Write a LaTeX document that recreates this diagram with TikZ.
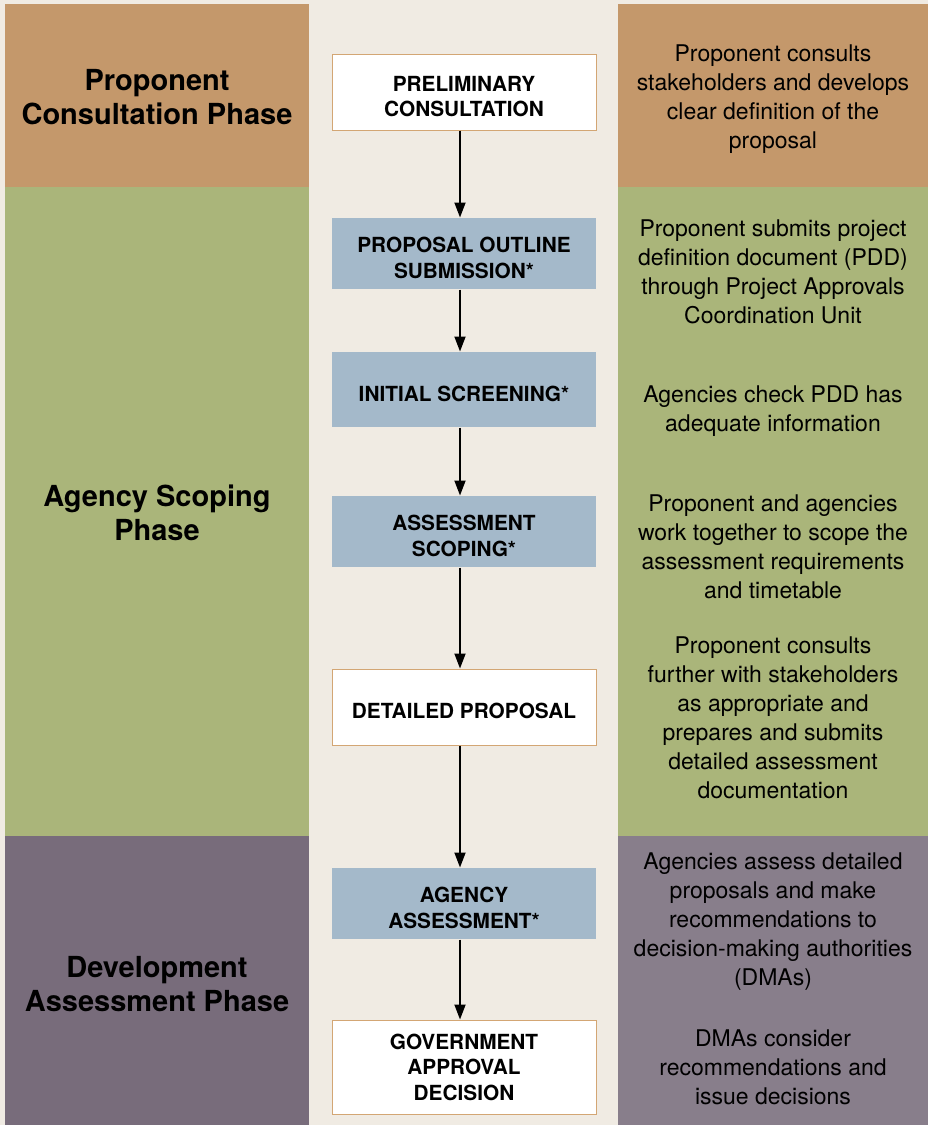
\documentclass[tikz,border=0pt]{standalone}
\usepackage{fontspec}
\setmainfont{TeX Gyre Heros}
\usetikzlibrary{arrows.meta}

\definecolor{bgbeige}{HTML}{F0EBE3}
\definecolor{phbrown}{HTML}{C4986B}
\definecolor{phgreen}{HTML}{AAB57A}
\definecolor{phpurple}{HTML}{786C7B}
\definecolor{phpurplelt}{HTML}{887E8B}
\definecolor{boxblue}{HTML}{A4B9CA}
\definecolor{boxline}{HTML}{D3A674}

% pushes the box text a little below the box centre
\newcommand{\bstrut}{\rule{0pt}{24pt}}

\begin{document}
\begin{tikzpicture}[x=1pt,y=-1pt,
  snode/.style={draw=boxline, line width=1pt, fill=white, minimum width=264pt, inner sep=2pt, align=center, font=\fontsize{20.8}{25.5}\selectfont\bfseries},
  bnode/.style={snode, draw=none, fill=boxblue},
  dnode/.style={align=center, font=\fontsize{23}{29}\selectfont},
  pnode/.style={align=center, font=\fontsize{29}{34}\selectfont\bfseries}]

    % bands
    \fill[bgbeige] (0,0) rectangle (928,1125);
    \fill[phbrown] (5,4) rectangle (309,187);
    \fill[phgreen] (5,187) rectangle (309,836);
    \fill[phpurple] (5,836) rectangle (309,1125);
    \fill[phbrown] (618,4) rectangle (928,187);
    \fill[phgreen] (618,187) rectangle (928,836);
    \fill[phpurplelt] (618,836) rectangle (928,1125);

    \node[pnode] (p1) at (157,97) {Proponent\\Consultation Phase};
    \node[pnode] (p2) at (157,513) {Agency Scoping\\Phase};
    \node[pnode] (p3) at (157,984) {Development\\Assessment Phase};

    \node[snode, minimum height=76pt] (1) at (464,92) {\bstrut PRELIMINARY\\CONSULTATION};
    \node[bnode, minimum height=71pt] (2) at (464,253.5) {\bstrut PROPOSAL OUTLINE\\SUBMISSION*};
    \node[bnode, minimum height=75pt] (3) at (464,389.5) {\bstrut INITIAL SCREENING*};
    \node[bnode, minimum height=71pt] (4) at (464,531.5) {\bstrut ASSESSMENT\\SCOPING*};
    \node[snode, minimum height=76pt] (5) at (464,707) {\bstrut DETAILED PROPOSAL};
    \node[bnode, minimum height=71pt] (6) at (464,903.5) {\bstrut AGENCY\\ASSESSMENT*};
    \node[snode, minimum height=94pt] (7) at (464,1067) {GOVERNMENT\\APPROVAL\\DECISION};

    \node[dnode] (1d) at (773,99) {Proponent consults\\stakeholders and develops\\clear definition of the\\proposal};
    \node[dnode] (2d) at (773,272) {Proponent submits project\\definition document (PDD)\\through Project Approvals\\Coordination Unit};
    \node[dnode] (3d) at (773,411.5) {Agencies check PDD has\\adequate information};
    \node[dnode] (4d) at (773,547) {Proponent and agencies\\work together to scope the\\assessment requirements\\and timetable};
    \node[dnode] (5d) at (773,717.5) {Proponent consults\\further with stakeholders\\as appropriate and\\prepares and submits\\detailed assessment\\documentation};
    \node[dnode] (6d) at (773,921.5) {Agencies assess detailed\\proposals and make\\recommendations to\\decision-making authorities\\(DMAs)};
    \node[dnode] (7d) at (773,1067.5) {DMAs consider\\recommendations and\\issue decisions};

    \begin{scope}[line width=1.8pt, -{Triangle[width=11pt,length=15pt]}]
    \draw (1.south -| 460,0) -- (2.north -| 460,0);
    \draw (2.south -| 460,0) -- (3.north -| 460,0);
    \draw (3.south -| 460,0) -- (4.north -| 460,0);
    \draw (4.south -| 460,0) -- (5.north -| 460,0);
    \draw (5.south -| 460,0) -- (6.north -| 460,0);
    \draw (6.south -| 460,0) -- (7.north -| 460,0);
    \end{scope}
\end{tikzpicture}
\end{document}
